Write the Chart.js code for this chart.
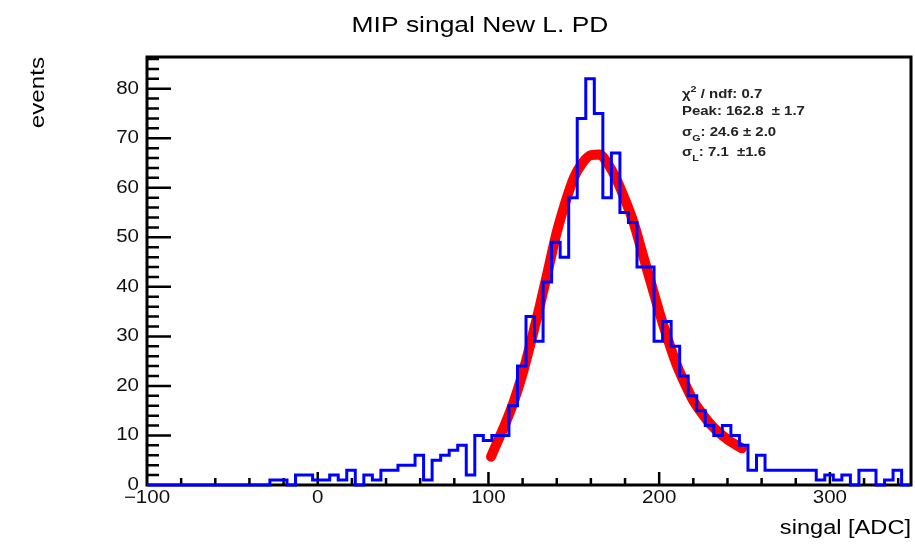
<!DOCTYPE html>
<html>
<head>
<meta charset="utf-8">
<title>MIP singal New L. PD</title>
<script src="https://cdn.jsdelivr.net/npm/chart.js@4.4.0/dist/chart.umd.min.js"></script>
<style>
  html, body { margin: 0; padding: 0; background: #fff; }
  canvas { display: block; }
</style>
</head>
<body>
<canvas id="mipChart" width="915" height="545"></canvas>
<script>
// histogram binning [ADC], 5 ADC wide bins
var binLow = -103;
var binWidth = 5;
var counts = [
  0, 0, 0, 0, 0, 0, 0, 0, 0, 0, 0, 0, 0, 0, 0,   // -100 .. -30
  1, 1, 0, 2, 2, 1, 1, 2, 1, 3,                   // -25 .. 20
  0, 2, 1, 3, 3, 4, 4, 6, 1, 5,                   // 25 .. 70
  6, 7, 8, 2, 10, 9, 10, 10, 16, 24,              // 75 .. 120
  34, 29, 41, 49, 46, 58, 74, 82, 75, 58,         // 125 .. 170
  67, 55, 53, 44, 44, 29, 33, 28, 22, 18,         // 175 .. 220
  15, 12, 10, 12, 10, 8, 3, 6, 3, 3,              // 225 .. 270
  3, 3, 3, 3, 1, 2, 1, 2, 0, 3,                   // 275 .. 320
  3, 0, 1, 3, 0                                   // 325 .. 345
];

// langaus fit curve
var fitX = [101.5, 105, 110, 115, 120, 125, 130, 135, 140, 145, 150, 155, 160, 165,
            170, 175, 180, 185, 190, 195, 200, 205, 210, 215, 220, 225, 230, 235, 240, 245, 248.5];
var fitY = [5.7, 8.5, 12.5, 17, 22.5, 29, 36, 43.5, 51, 57, 62, 65, 66.6, 66.7,
            64.8, 61.7, 57.6, 53, 47, 41, 35, 29.5, 24.5, 20.5, 17, 14.5, 12.3, 10.6, 9.2, 8.1, 7.4];

var xRange = [-100, 347.5];
var yRange = [0, 86.4];
var xTickValues = [-100, 0, 100, 200, 300];
var yTickValues = [0, 10, 20, 30, 40, 50, 60, 70, 80];

var titleText = 'MIP singal New L. PD';
var xTitle = 'singal [ADC]';
var yTitle = 'events';
// fit box, each line is [text, 'sup'|'sub'|''] pieces
var statLines = [
  [['\u03c7', ''], ['2', 'sup'], [' / ndf: 0.7', '']],
  [['Peak: 162.8  \u00b1 1.7', '']],
  [['\u03c3', ''], ['G', 'sub'], [': 24.6 \u00b1 2.0', '']],
  [['\u03c3', ''], ['L', 'sub'], [': 7.1  \u00b11.6', '']]
];

var fontFamily = '"Liberation Sans", Arial, Helvetica, sans-serif';

function histPoints() {
  var pts = [];
  for (var i = 0; i < counts.length; i++) {
    pts.push({ x: binLow + i * binWidth, y: counts[i] });
  }
  pts.push({ x: binLow + counts.length * binWidth, y: counts[counts.length - 1] });
  return pts;
}

function fitPoints() {
  return fitX.map(function(x, i) { return { x: x, y: fitY[i] }; });
}

function wideText(ctx, text, x, y, sx) {
  ctx.save();
  ctx.translate(x, y);
  ctx.scale(sx, 1);
  ctx.fillText(text, 0, 0);
  ctx.restore();
}

function drawParts(ctx, parts, x, y, size, sx) {
  var cx = x;
  ctx.textAlign = 'left';
  ctx.textBaseline = 'alphabetic';
  parts.forEach(function(p) {
    var fs = p[1] ? size * 0.72 : size;
    var dy = p[1] === 'sup' ? -size * 0.5 : (p[1] === 'sub' ? size * 0.35 : 0);
    ctx.font = 'bold ' + fs + 'px ' + fontFamily;
    wideText(ctx, p[0], cx, y + dy, sx);
    cx += ctx.measureText(p[0]).width * sx;
  });
}

function fmt(v) {
  return v < 0 ? '\u2212' + Math.abs(v) : String(v);
}

// ROOT style frame, inside ticks and texts
var rootDecor = {
  id: 'rootDecor',
  beforeDatasetsDraw: function(chart) {
    var ctx = chart.ctx, a = chart.chartArea;
    var xs = chart.scales.x, ys = chart.scales.y;
    ctx.save();
    ctx.strokeStyle = '#000';
    ctx.lineWidth = 2.5;
    ctx.beginPath();
    for (var v = 2; v <= yRange[1]; v += 2) {
      var py = ys.getPixelForValue(v);
      var len = v % 10 === 0 ? 24 : 12;
      ctx.moveTo(a.left, py);
      ctx.lineTo(a.left + len, py);
    }
    for (var u = xRange[0] + 20; u <= xRange[1]; u += 20) {
      var px = xs.getPixelForValue(u);
      var l2 = u % 100 === 0 ? 13 : 7;
      ctx.moveTo(px, a.bottom);
      ctx.lineTo(px, a.bottom - l2);
    }
    ctx.stroke();
    ctx.lineWidth = 3;
    ctx.strokeRect(a.left, a.top, a.right - a.left, a.bottom - a.top);
    ctx.restore();
  },
  afterDraw: function(chart) {
    var ctx = chart.ctx, a = chart.chartArea;
    var xs = chart.scales.x, ys = chart.scales.y;
    ctx.save();
    ctx.fillStyle = '#111';

    // tick labels
    ctx.font = '18px ' + fontFamily;
    ctx.textAlign = 'right';
    ctx.textBaseline = 'middle';
    yTickValues.forEach(function(v) {
      wideText(ctx, fmt(v), a.left - 8, ys.getPixelForValue(v), 1.14);
    });
    ctx.textAlign = 'center';
    ctx.textBaseline = 'top';
    xTickValues.forEach(function(v) {
      wideText(ctx, fmt(v), xs.getPixelForValue(v), a.bottom + 4, 1.14);
    });

    // title and axis titles
    ctx.fillStyle = '#000';
    ctx.font = '22px ' + fontFamily;
    ctx.textAlign = 'center';
    ctx.textBaseline = 'alphabetic';
    wideText(ctx, titleText, 480, 32, 1.2);

    ctx.font = '20px ' + fontFamily;
    ctx.textAlign = 'right';
    wideText(ctx, xTitle, a.right, 534, 1.18);

    ctx.save();
    ctx.font = '21px ' + fontFamily;
    ctx.translate(44, a.top);
    ctx.rotate(-Math.PI / 2);
    ctx.scale(1.15, 1);
    ctx.textAlign = 'right';
    ctx.fillText(yTitle, 0, 0);
    ctx.restore();

    // fit results
    ctx.fillStyle = '#222';
    var baselines = [98, 115, 136, 156];
    statLines.forEach(function(parts, i) {
      drawParts(ctx, parts, 682, baselines[i], 13, 1.15);
    });
    ctx.restore();
  }
};

new Chart(document.getElementById('mipChart').getContext('2d'), {
  type: 'line',
  data: {
    datasets: [
      {
        label: 'events',
        data: histPoints(),
        stepped: true,
        borderColor: '#0000ff',
        borderWidth: 3,
        pointRadius: 0,
        fill: false,
        clip: { left: 0, top: 0, right: 0, bottom: 2 }
      },
      {
        label: 'fit',
        data: fitPoints(),
        borderColor: '#ff0000',
        borderWidth: 10,
        borderCapStyle: 'round',
        borderJoinStyle: 'round',
        cubicInterpolationMode: 'monotone',
        pointRadius: 0,
        fill: false
      }
    ]
  },
  options: {
    responsive: false,
    animation: false,
    devicePixelRatio: 1,
    layout: { padding: { top: 57, right: 4, left: 0, bottom: 0 } },
    plugins: {
      legend: { display: false },
      tooltip: { enabled: false },
      title: { display: false }
    },
    scales: {
      x: {
        type: 'linear',
        min: xRange[0],
        max: xRange[1],
        grid: { display: false, drawTicks: false },
        border: { display: false },
        ticks: { display: false },
        afterFit: function(s) { s.height = 60; }
      },
      y: {
        type: 'linear',
        min: yRange[0],
        max: yRange[1],
        grid: { display: false, drawTicks: false },
        border: { display: false },
        ticks: { display: false },
        afterFit: function(s) { s.width = 147; }
      }
    }
  },
  plugins: [rootDecor]
});
</script>
</body>
</html>
